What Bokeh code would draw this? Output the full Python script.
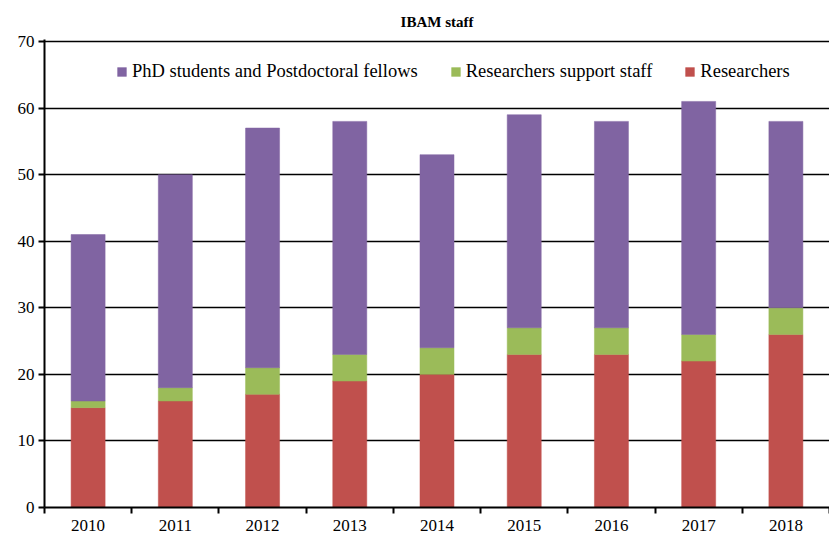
from bokeh.plotting import figure
from bokeh.models import (Legend, LegendItem, FixedTicker, Range1d, ColumnDataSource)
from bokeh.embed import file_html
from bokeh.resources import INLINE

years = ["2010", "2011", "2012", "2013", "2014", "2015", "2016", "2017", "2018"]
researchers = [15, 16, 17, 19, 20, 23, 23, 22, 26]
support_staff = [1, 2, 4, 4, 4, 4, 4, 4, 4]
phd_postdoc = [25, 32, 36, 35, 29, 32, 31, 35, 28]
y_ticks = [0, 10, 20, 30, 40, 50, 60, 70]

series = ["researchers", "support", "phd"]
labels = ["Researchers", "Researchers support staff", "PhD students and Postdoctoral fellows"]
colors = ["#C0504D", "#9BBB59", "#8064A2"]

FONT = "Liberation Serif"

xpos = [i + 0.5 for i in range(len(years))]
source = ColumnDataSource(dict(x=xpos, researchers=researchers,
                               support=support_staff, phd=phd_postdoc))

p = figure(width=829, height=535, output_backend="svg", toolbar_location=None,
           x_range=Range1d(0, len(years)), y_range=Range1d(0, 70.3),
           title="IBAM staff",
           min_border_left=44, min_border_right=0, min_border_top=39, min_border_bottom=28)

renderers = p.vbar_stack(series, x="x", width=0.39, source=source,
                         fill_color=colors, line_color=colors, line_width=0.5)

p.outline_line_color = None
p.background_fill_color = "white"

p.title.align = "center"
p.title.text_font = FONT
p.title.text_font_size = "15px"
p.title.text_font_style = "bold"
p.title.text_color = "black"
p.title.standoff = 19

# x axis: labels at category centers, minor ticks at boundaries
xa = p.xaxis[0]
xa.ticker = FixedTicker(ticks=xpos, minor_ticks=list(range(len(years) + 1)))
xa.major_label_overrides = {x: y for x, y in zip(xpos, years)}
xa.major_tick_line_color = None
xa.minor_tick_line_color = "black"
xa.minor_tick_line_width = 2
xa.minor_tick_out = 6
xa.minor_tick_in = 0
xa.axis_line_color = "black"
xa.axis_line_width = 2
xa.major_label_text_font = FONT
xa.major_label_text_font_size = "17px"
xa.major_label_text_color = "black"
xa.major_label_standoff = 6

ya = p.yaxis[0]
ya.ticker = FixedTicker(ticks=y_ticks, minor_ticks=[])
ya.major_tick_out = 6
ya.major_tick_in = 0
ya.major_tick_line_width = 2
ya.major_tick_line_color = "black"
ya.axis_line_color = "black"
ya.axis_line_width = 2
ya.major_label_text_font = FONT
ya.major_label_text_font_size = "17px"
ya.major_label_text_color = "black"
ya.major_label_standoff = 4

p.xgrid.grid_line_color = None
p.ygrid.ticker = FixedTicker(ticks=y_ticks[1:])
p.ygrid.grid_line_color = "black"
p.ygrid.grid_line_width = 1.5

items = [LegendItem(label=labels[i], renderers=[renderers[i]]) for i in [2, 1, 0]]
legend = Legend(items=items, orientation="horizontal", location=(72, 425),
                padding=0, margin=0, spacing=32, label_standoff=5,
                glyph_width=11, glyph_height=11,
                label_text_font=FONT, label_text_font_size="18.5px",
                label_text_color="black",
                border_line_color=None, background_fill_alpha=0)
p.add_layout(legend)

open("out.html", "w").write(file_html(p, INLINE))
